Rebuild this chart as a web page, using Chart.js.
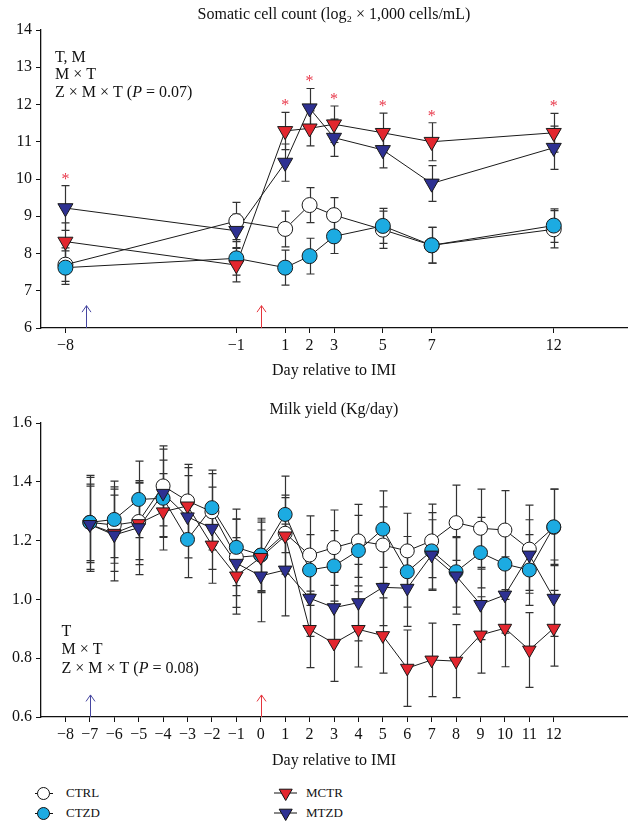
<!DOCTYPE html>
<html><head><meta charset="utf-8">
<script src="https://cdn.jsdelivr.net/npm/chart.js@4.4.1/dist/chart.umd.min.js"></script>
<style>
html,body{margin:0;padding:0;background:#fff;}
body{width:638px;height:832px;position:relative;overflow:hidden;font-family:"Liberation Serif",serif;color:#111;}
#w1{position:absolute;left:0;top:0;width:638px;height:384px;}
#w2{position:absolute;left:0;top:385px;width:638px;height:389px;}
.lm{position:absolute;}
.lt{position:absolute;font-size:13px;line-height:16px;white-space:nowrap;}
</style></head><body>
<div id="w1"><canvas id="c1"></canvas></div>
<div id="w2"><canvas id="c2"></canvas></div>

<svg class="lm" style="left:33px;top:785px" width="22" height="17"><line x1="2" y1="8.5" x2="20" y2="8.5" stroke="#111" stroke-width="1"/><circle cx="10.5" cy="8.5" r="6" fill="#fff" stroke="#111" stroke-width="1"/></svg>
<div class="lt" style="left:66px;top:785px">CTRL</div>
<svg class="lm" style="left:33px;top:805px" width="22" height="17"><line x1="2" y1="8.5" x2="20" y2="8.5" stroke="#111" stroke-width="1"/><circle cx="10.5" cy="8.5" r="6" fill="#1cabe2" stroke="#111" stroke-width="1"/></svg>
<div class="lt" style="left:66px;top:805px">CTZD</div>
<svg class="lm" style="left:273px;top:785px" width="26" height="17"><line x1="1" y1="8" x2="24" y2="8" stroke="#111" stroke-width="1"/><polygon points="6.2,4.2 19.2,4.2 12.7,15.5" fill="#e3262e" stroke="#111" stroke-width="1"/></svg>
<div class="lt" style="left:306px;top:785px">MCTR</div>
<svg class="lm" style="left:273px;top:805px" width="26" height="17"><line x1="1" y1="8" x2="24" y2="8" stroke="#111" stroke-width="1"/><polygon points="6.2,4.2 19.2,4.2 12.7,15.5" fill="#2e3192" stroke="#111" stroke-width="1"/></svg>
<div class="lt" style="left:306px;top:805px">MTZD</div>

<script>
// ---------- Somatic cell count (top panel) ----------
const sccDays   = [-8, -1, 1, 2, 3, 5, 7, 12];
const sccCTRL   = [7.70, 8.87, 8.66, 9.30, 9.03, 8.64, 8.22, 8.65];
const sccCTZD   = [7.62, 7.87, 7.62, 7.93, 8.46, 8.74, 8.22, 8.75];
const sccMCTR   = [8.32, 7.69, 11.29, 11.36, 11.47, 11.24, 11.00, 11.24];
const sccMTZD   = [9.22, 8.61, 10.44, 11.90, 11.11, 10.78, 9.88, 10.84];
const sccCTRLse = [0.45, 0.50, 0.48, 0.47, 0.47, 0.50, 0.48, 0.50];
const sccCTZDse = [0.45, 0.45, 0.47, 0.48, 0.46, 0.47, 0.48, 0.45];
const sccMCTRse = [0.50, 0.45, 0.50, 0.47, 0.49, 0.53, 0.51, 0.52];
const sccMTZDse = [0.60, 0.45, 0.50, 0.53, 0.50, 0.48, 0.48, 0.58];
const sccStarDays = [-8, 1, 2, 3, 5, 7, 12];
const sccArrowDays = [-7.15, 0];
const sccArrowTip = 6.6;
const sccTicksX = [-8, -1, 1, 2, 3, 5, 7, 12];
const sccTicksY = [6, 7, 8, 9, 10, 11, 12, 13, 14];
const sccNotes = ['T, M', 'M × T', 'Z × M × T (P = 0.07)'];

// ---------- Milk yield (bottom panel) ----------
const myDays   = [-7, -6, -5, -4, -3, -2, -1, 0, 1, 2, 3, 4, 5, 6, 7, 8, 9, 10, 11, 12];
const myCTRL   = [1.262, 1.253, 1.265, 1.386, 1.335, 1.298, 1.143, 1.150, 1.225, 1.151, 1.176, 1.199, 1.185, 1.165, 1.199, 1.261, 1.242, 1.236, 1.171, 1.245];
const myCTZD   = [1.262, 1.272, 1.340, 1.344, 1.204, 1.312, 1.177, 1.151, 1.289, 1.100, 1.114, 1.166, 1.239, 1.094, 1.165, 1.094, 1.159, 1.120, 1.100, 1.247];
const myMCTR   = [1.255, 1.225, 1.258, 1.298, 1.318, 1.185, 1.080, 1.143, 1.216, 0.898, 0.851, 0.898, 0.877, 0.766, 0.794, 0.790, 0.879, 0.902, 0.828, 0.902];
const myMTZD   = [1.255, 1.219, 1.244, 1.361, 1.281, 1.242, 1.123, 1.080, 1.100, 1.004, 0.972, 0.989, 1.041, 1.038, 1.151, 1.080, 0.983, 1.015, 1.151, 1.004];
const myCTRLse = [0.13, 0.13, 0.13, 0.136, 0.124, 0.13, 0.13, 0.12, 0.13, 0.133, 0.128, 0.124, 0.13, 0.128, 0.125, 0.128, 0.133, 0.134, 0.15, 0.13];
const myCTZDse = [0.16, 0.13, 0.13, 0.13, 0.13, 0.128, 0.13, 0.125, 0.13, 0.12, 0.12, 0.12, 0.13, 0.12, 0.13, 0.12, 0.12, 0.12, 0.12, 0.128];
const myMCTRse = [0.13, 0.13, 0.14, 0.13, 0.13, 0.13, 0.13, 0.12, 0.13, 0.13, 0.13, 0.128, 0.128, 0.13, 0.125, 0.124, 0.13, 0.131, 0.127, 0.129];
const myMTZDse = [0.16, 0.156, 0.16, 0.15, 0.14, 0.14, 0.15, 0.156, 0.156, 0.13, 0.12, 0.13, 0.13, 0.13, 0.12, 0.13, 0.12, 0.13, 0.12, 0.13];
const myArrowDays = [-7, 0];
const myArrowTip = 0.675;
const myTicksX = [-8, -7, -6, -5, -4, -3, -2, -1, 0, 1, 2, 3, 4, 5, 6, 7, 8, 9, 10, 11, 12];
const myTicksY = [0.6, 0.8, 1.0, 1.2, 1.4, 1.6];
const myNotes = ['T', 'M × T', 'Z × M × T (P = 0.08)'];

// ---------- styling ----------
const FONT = 'Liberation Serif';
const INK = '#111';
const COL = {CTRL: '#ffffff', CTZD: '#1cabe2', MCTR: '#e3262e', MTZD: '#2e3192'};
const ARROW_COL = ['#4646a0', '#e5343c'];
const STAR_COL = '#e8384a';

function fmtMinus(v) { return String(v).replace('-', '\u2212'); }

function overlay(cfg) {
  return {
    id: 'overlay_' + cfg.id,
    beforeDatasetsDraw(chart) {
      const {ctx, chartArea: a, scales: {x, y}} = chart;
      ctx.save();
      // arrows
      cfg.arrowDays.forEach((d, k) => {
        const px = Math.round(x.getPixelForValue(d)) + 0.5;
        const tp = y.getPixelForValue(cfg.arrowTip);
        ctx.strokeStyle = ARROW_COL[k]; ctx.lineWidth = 1;
        ctx.beginPath();
        ctx.moveTo(px, a.bottom); ctx.lineTo(px, tp);
        ctx.moveTo(px - 4.5, tp + 6.5); ctx.lineTo(px, tp); ctx.lineTo(px + 4.5, tp + 6.5);
        ctx.stroke();
      });
      // error bars
      ctx.strokeStyle = '#333'; ctx.lineWidth = 1.2;
      cfg.series.forEach(s => {
        cfg.days.forEach((d, i) => {
          const px = Math.round(x.getPixelForValue(d)) + 0.5;
          const y1 = y.getPixelForValue(s.vals[i] + s.se[i]);
          const y2 = y.getPixelForValue(s.vals[i] - s.se[i]);
          ctx.beginPath();
          ctx.moveTo(px, y1); ctx.lineTo(px, y2);
          ctx.moveTo(px - cfg.cap, y1); ctx.lineTo(px + cfg.cap, y1);
          ctx.moveTo(px - cfg.cap, y2); ctx.lineTo(px + cfg.cap, y2);
          ctx.stroke();
        });
      });
      ctx.restore();
    },
    afterDatasetsDraw(chart) {
      const {ctx, chartArea: a, scales: {x, y}} = chart;
      ctx.save();
      // stars
      ctx.fillStyle = STAR_COL;
      ctx.font = '16px "' + FONT + '"';
      ctx.textAlign = 'center'; ctx.textBaseline = 'alphabetic';
      cfg.starDays.forEach(d => {
        const i = cfg.days.indexOf(d);
        let top = Infinity;
        cfg.series.forEach(s => { top = Math.min(top, y.getPixelForValue(s.vals[i] + s.se[i])); });
        const cy = top - 10;
        ctx.fillText('*', x.getPixelForValue(d), cy + 8);
      });
      // notes
      ctx.fillStyle = INK; ctx.textAlign = 'left'; ctx.textBaseline = 'middle';
      cfg.notes.forEach((t, k) => {
        let px = a.left + cfg.noteDx;
        const py = a.top + cfg.noteDy + k * cfg.noteGap;
        t.split(/(P)/).forEach(part => {
          if (!part) return;
          ctx.font = (part === 'P' ? 'italic ' : '') + '16px "' + FONT + '"';
          ctx.fillText(part, px, py);
          px += ctx.measureText(part).width;
        });
      });
      ctx.restore();
    }
  };
}

function makeChart(canvasId, cfg) {
  const datasets = [];
  cfg.series.forEach((s, k) => {
    const pts = cfg.days.map((d, i) => ({x: d, y: s.vals[i]}));
    datasets.push({label: s.name + '-line', data: pts, showLine: true, borderColor: '#1a1a1a', borderWidth: 1,
      pointRadius: 0, order: 20});
    const tri = s.style === 'triangle';
    datasets.push({label: s.name, data: pts, showLine: false, pointStyle: s.style,
      pointRotation: tri ? 180 : 0, pointRadius: tri ? cfg.triR : cfg.circR,
      pointBackgroundColor: COL[s.name], pointBorderColor: '#1a1a1a', pointBorderWidth: 1, order: 4 - k});
  });
  const tickFont = {family: FONT, size: 16};
  const grid = {display: true, drawOnChartArea: false, drawTicks: true, tickLength: 5, color: INK, lineWidth: 1};
  const border = {display: true, color: INK, width: 1.3};
  return new Chart(document.getElementById(canvasId), {
    type: 'scatter',
    data: {datasets},
    options: {
      responsive: true, maintainAspectRatio: false, animation: false, events: [],
      layout: {padding: {left: 0, right: 11, top: 0, bottom: 0}},
      plugins: {
        legend: {display: false}, tooltip: {enabled: false},
        title: {display: true, text: cfg.title, color: INK, fullSize: false,
          font: {family: FONT, size: 16, weight: 'normal', lineHeight: 1.2},
          padding: cfg.titlePad}
      },
      scales: {
        x: {type: 'linear', min: -9, max: 15,
          afterBuildTicks: sc => { sc.ticks = cfg.xTicks.map(v => ({value: v})); },
          afterFit: sc => { sc.height = cfg.xAxisH; },
          ticks: {callback: v => fmtMinus(v), font: tickFont, color: INK, padding: 3.5, maxRotation: 0, autoSkip: false},
          grid, border,
          title: {display: true, text: 'Day relative to IMI', color: INK,
            font: {family: FONT, size: 16, lineHeight: 1.2}, padding: {top: 0, bottom: 4}}
        },
        y: {type: 'linear', min: cfg.yMin, max: cfg.yMax,
          afterBuildTicks: sc => { sc.ticks = cfg.yTicks.map(v => ({value: v})); },
          afterFit: sc => { sc.width = 41; },
          ticks: {callback: cfg.yFmt, font: tickFont, color: INK, padding: 4},
          grid, border
        }
      }
    },
    plugins: [overlay(cfg)]
  });
}

makeChart('c1', {
  id: 'scc',
  title: 'Somatic cell count (log\u2082 \u00d7 1,000 cells/mL)',
  titlePad: {top: 5.4, bottom: 5.4},
  days: sccDays,
  series: [
    {name: 'CTRL', style: 'circle', vals: sccCTRL, se: sccCTRLse},
    {name: 'CTZD', style: 'circle', vals: sccCTZD, se: sccCTZDse},
    {name: 'MCTR', style: 'triangle', vals: sccMCTR, se: sccMCTRse},
    {name: 'MTZD', style: 'triangle', vals: sccMTZD, se: sccMTZDse}
  ],
  circR: 7.5, triR: 8.7, cap: 4,
  xTicks: sccTicksX, yTicks: sccTicksY, yMin: 6, yMax: 14, yFmt: v => String(v),
  xAxisH: 56,
  starDays: sccStarDays, arrowDays: sccArrowDays, arrowTip: sccArrowTip,
  notes: sccNotes, noteDx: 14, noteDy: 27.3, noteGap: 17.7
});

makeChart('c2', {
  id: 'my',
  title: 'Milk yield (Kg/day)',
  titlePad: {top: 15.4, bottom: 3.4},
  days: myDays,
  series: [
    {name: 'CTRL', style: 'circle', vals: myCTRL, se: myCTRLse},
    {name: 'CTZD', style: 'circle', vals: myCTZD, se: myCTZDse},
    {name: 'MCTR', style: 'triangle', vals: myMCTR, se: myMCTRse},
    {name: 'MTZD', style: 'triangle', vals: myMTZD, se: myMTZDse}
  ],
  circR: 7, triR: 7.8, cap: 4,
  xTicks: myTicksX, yTicks: myTicksY, yMin: 0.6, yMax: 1.6, yFmt: v => v.toFixed(1),
  xAxisH: 57,
  starDays: [], arrowDays: myArrowDays, arrowTip: myArrowTip,
  notes: myNotes, noteDx: 20.5, noteDy: 208.7, noteGap: 18.3
});
</script>
</body></html>
